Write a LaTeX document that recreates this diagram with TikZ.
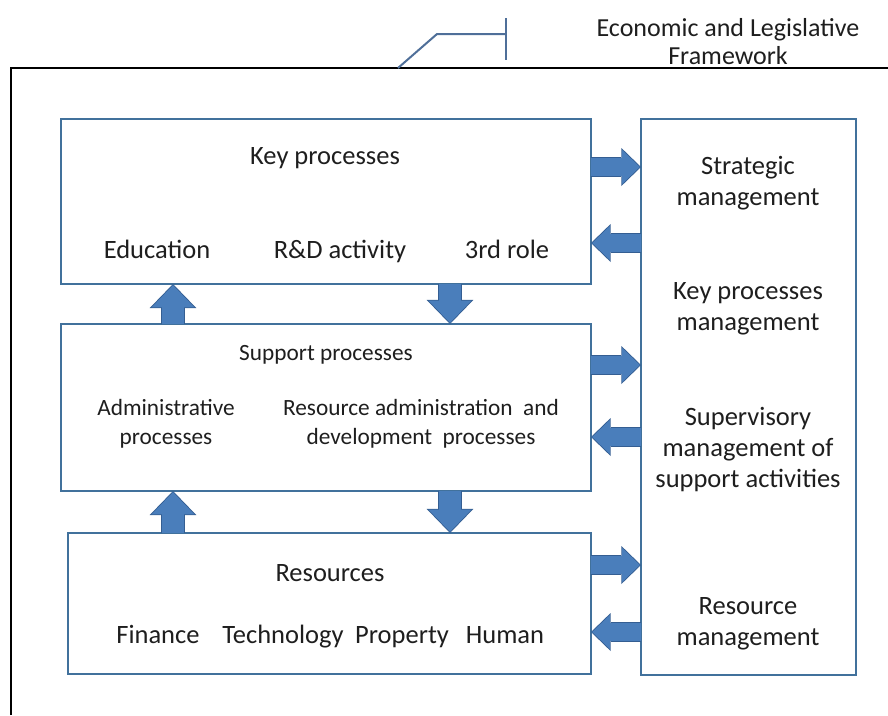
\documentclass[tikz,border=0pt]{standalone}
\usepackage{fontspec}
\setmainfont{Carlito}
\usepackage{tikz}
\usetikzlibrary{arrows.meta,positioning}
\definecolor{boxline}{RGB}{65,113,156}
\definecolor{arrowfill}{RGB}{74,126,187}
\definecolor{arrowline}{RGB}{52,94,146}
\definecolor{calloutline}{RGB}{79,111,153}
\definecolor{textcol}{RGB}{30,30,30}
\tikzset{
  diagrampic/.style={
    x=1pt,y=-1pt
    ,inner sep=0pt
    ,outer sep=0pt
  }
  ,procbox/.style={draw=boxline,line width=2pt}
  ,boxtitle/.style={font=\fontsize{26.5}{31}\selectfont\color{textcol},anchor=base}
  ,boxitem/.style={font=\fontsize{26.5}{31}\selectfont\color{textcol},anchor=base}
  ,smallitem/.style={font=\fontsize{23.3}{29}\selectfont\color{textcol},align=center}
  ,mgmtitem/.style={font=\fontsize{26.5}{31}\selectfont\color{textcol},align=center}
  ,frametitle/.style={font=\fontsize{26}{28}\selectfont\color{textcol},align=center}
  ,frameline/.style={draw=black,line width=2pt}
  ,callout/.style={draw=calloutline,line width=2pt}
}
% #1 = size factor, #2 = start, #3 = end
\newcommand\fatarrow[3][1]{
  \pgfmathsetmacro\fatshaft{18*#1}
  \pgfmathsetmacro\fathead{35*#1}
  \pgfmathsetmacro\fatlen{18*#1}
  \draw[arrowline,line width=\fatshaft pt+2.4pt
    ,-{Triangle[length=\fatlen pt+1.6pt,width=\fathead pt+3pt,line width=0pt]}] (#2) -- (#3);
  \draw[arrowfill,line width=\fatshaft pt,shorten >=1.2pt
    ,-{Triangle[length=\fatlen pt-0.4pt,width=\fathead pt-1pt,line width=0pt]}] (#2) -- (#3);
}

\begin{document}
\begin{tikzpicture}[diagrampic]
  \useasboundingbox (0,0) rectangle (888,715);
  % outer frame
  \draw[frameline] (11,715) -- (11,68) -- (888,68);
  % framework callout
  \coordinate (calloutfoot) at (398,68);
  \coordinate (calloutbend) at (437,34);
  \coordinate (callouttick) at (506,34);
  \coordinate (ticktop) at (506,18);
  \coordinate (tickbot) at (506,60);
  \draw[callout] (calloutfoot) -- (calloutbend) -- (callouttick);
  \draw[callout] (ticktop) -- (tickbot);
  \node[frametitle] (framenm) at (728,41.5) {Economic and Legislative\\Framework};

  % key processes
  \node[procbox,minimum width=530pt,minimum height=165pt] (keybox) at (326,201.5) {};
  \node[boxtitle] (keynm) at (325,164.5) {Key processes};
  \node[boxitem] (educ) at (157,258.5) {Education};
  \node[boxitem] (rnd) at (340,258.5) {R\&D activity};
  \node[boxitem] (third) at (507,258.5) {3rd role};

  % support processes
  \node[procbox,minimum width=530pt,minimum height=167pt] (supbox) at (326,407.5) {};
  \node[smallitem,anchor=base] (supnm) at (326,360) {Support processes};
  \node[smallitem] (admin) at (166,424) {Administrative\\processes};
  \node[smallitem] (resadmin) at (421,424) {Resource administration~ and\\development~ processes};

  % resources
  \node[procbox,minimum width=523pt,minimum height=141pt] (resbox) at (329.5,603.5) {};
  \node[boxtitle] (resnm) at (330,581.5) {Resources};
  \node[boxitem] (finance) at (158,643.5) {Finance};
  \node[boxitem] (techn) at (283,643.5) {Technology};
  \node[boxitem] (property) at (402,643.5) {Property};
  \node[boxitem] (human) at (505,643.5) {Human};

  % management column
  \node[procbox,minimum width=215pt,minimum height=556pt] (mgmtbox) at (748.5,397) {};
  \node[mgmtitem] (strat) at (748,183) {Strategic\\management};
  \node[mgmtitem] (keymgmt) at (748,309) {Key processes\\management};
  \node[mgmtitem] (supmgmt) at (748,450) {Supervisory\\management of\\support activities};
  \node[mgmtitem] (resmgmt) at (748,624) {Resource\\management};

  % vertical arrows
  \coordinate (leftx) at (173,0);
  \coordinate (rightx) at (450,0);
  \fatarrow[1.25]{supbox.north -| leftx}{keybox.south -| leftx}
  \fatarrow[1.25]{keybox.south -| rightx}{supbox.north -| rightx}
  \fatarrow[1.25]{resbox.north -| leftx}{supbox.south -| leftx}
  \fatarrow[1.25]{supbox.south -| rightx}{resbox.north -| rightx}

  % arrows to and from management
  \coordinate (keyout) at (0,167);
  \coordinate (keyin) at (0,243);
  \coordinate (supout) at (0,365);
  \coordinate (supin) at (0,437);
  \coordinate (resout) at (0,565);
  \coordinate (resin) at (0,632);
  \fatarrow{keybox.east |- keyout}{mgmtbox.west |- keyout}
  \fatarrow{mgmtbox.west |- keyin}{keybox.east |- keyin}
  \fatarrow{supbox.east |- supout}{mgmtbox.west |- supout}
  \fatarrow{mgmtbox.west |- supin}{supbox.east |- supin}
  \fatarrow{resbox.east |- resout}{mgmtbox.west |- resout}
  \fatarrow{mgmtbox.west |- resin}{resbox.east |- resin}
\end{tikzpicture}
\end{document}
